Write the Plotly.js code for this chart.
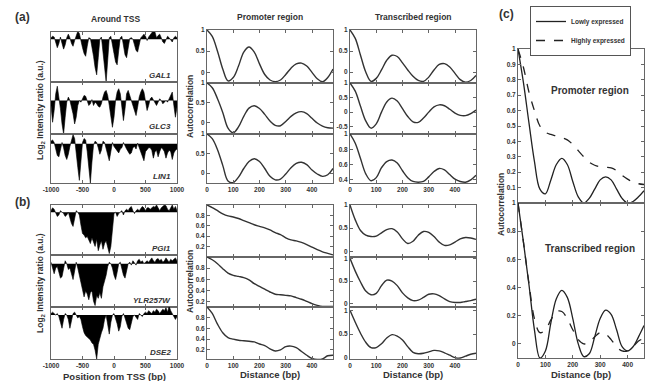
<!DOCTYPE html>
<html><head><meta charset="utf-8">
<script src="https://cdn.plot.ly/plotly-3.0.1.min.js"></script>
<style>html,body{margin:0;padding:0;background:#fff}#chart{width:652px;height:381px}</style>
</head><body><div id="chart"></div>
<script>
// ---------- DATA ----------
const tssPos = []; for (let p = -1000; p <= 1000; p += 25) tssPos.push(p);
const tssTicks = [-1000, -500, 0, 500, 1000];

const gal1 = [0.1,0.2,0.15,-0.2,-0.6,-0.3,0.15,-0.3,-0.7,-0.4,
  0.1,0.35,0.1,-0.3,-0.5,-0.1,0.3,0.55,0.4,-0.2,
  -0.6,-1.0,-1.2,-0.5,0.1,0.05,-0.5,-1.2,-2.0,-2.5,
  -1.3,0.0,0.15,-0.8,-2.0,-3.0,-1.5,0.1,0.2,-0.3,
  -1.0,-1.6,-1.8,-0.8,0.1,0.2,-0.4,-1.1,-1.3,-0.5,
  0.05,0.1,0.0,-0.4,-0.8,-0.9,-0.3,0.1,0.2,0.35,
  0.2,-0.1,0.15,0.3,0.45,0.6,0.5,0.1,0.25,0.35,
  0.1,-0.2,-0.3,0.0,0.2,0.1,-0.1,-0.2,0.1,0.2,
  0.1];
const glc3 = [-0.3,-1.3,-0.6,0.4,0.85,0.3,-0.5,-1.4,-2.0,-1.0,
  -0.1,0.2,0.0,-0.4,-0.8,-1.4,-1.0,-0.3,0.0,-0.1,
  0.1,0.3,0.25,-0.1,-0.3,-0.2,0.05,-0.3,-0.1,-0.2,
  -0.35,-0.4,-0.2,0.2,0.5,0.6,0.3,-0.3,-1.0,-1.6,
  -1.0,0.0,0.5,0.7,0.4,-0.4,-1.2,-0.5,0.4,0.6,
  0.3,-0.1,-0.3,-0.7,-0.9,-0.4,0.2,0.5,0.7,0.5,
  -0.2,-0.6,-0.3,0.1,0.2,0.0,-0.2,-0.3,-0.1,0.1,
  0.0,-0.2,-0.1,0.0,-0.1,0.1,0.3,0.5,-0.3,-1.0,
  -0.4];
const lin1 = [0.2,0.3,0.1,-0.4,-0.9,-1.0,-0.3,0.1,-0.3,-0.9,
  -1.2,-0.8,-0.2,0.3,0.7,0.4,-0.5,-1.8,-2.8,-1.2,
  0.1,0.4,0.3,-0.6,-2.0,-3.0,-1.4,-0.1,0.2,0.1,
  -0.3,-0.8,-0.5,0.2,0.1,-0.4,-0.9,-1.3,-0.6,0.1,
  -0.2,-0.4,-0.6,-0.7,-0.4,-0.3,0.1,-0.2,-0.4,-0.6,
  -0.8,-0.7,-0.3,-0.2,-0.4,0.05,-0.3,-0.6,-0.9,-1.3,
  -0.6,-0.4,-0.3,-0.3,-0.5,-1.1,-0.6,-0.5,-1.0,-0.6,
  -0.3,-0.4,-0.6,-1.1,-0.7,-0.5,-0.6,-1.2,-0.7,-0.5,
  -0.4];
const pgi1 = [0.1,0.3,0.2,0.0,-0.3,-0.2,0.1,0.0,-0.1,-0.3,
  -0.2,0.0,-0.4,-0.8,-1.0,-0.3,0.1,0.0,-0.2,-0.9,
  -1.5,-1.6,-1.8,-1.7,-1.9,-2.2,-1.8,-2.1,-2.4,-1.9,
  -2.7,-2.3,-2.0,-2.6,-2.2,-2.0,-2.5,-2.9,-2.4,-1.2,
  -0.1,0.0,-0.3,-0.1,0.0,0.1,-0.2,0.1,0.2,0.1,
  0.3,0.4,0.1,-0.1,0.1,0.2,0.1,0.3,0.4,0.3,
  0.1,0.3,0.3,0.2,0.3,0.4,0.35,0.5,0.3,0.1,
  0.3,0.4,0.5,0.45,0.2,0.1,0.3,0.5,0.2,0.4,
  0.1];
const ylr257w = [0.1,-0.4,-0.7,-0.3,-0.2,-0.6,-1.0,-0.9,-0.2,0.2,
  0.0,-0.4,-0.3,-0.8,-1.1,-0.5,0.1,-0.3,-0.9,-1.3,
  -1.8,-2.3,-1.9,-2.1,-2.5,-2.0,-1.9,-2.6,-2.9,-2.2,
  -2.4,-2.0,-2.4,-1.6,-1.2,-0.8,-0.2,0.1,0.0,-0.3,
  -0.8,-1.1,-0.6,0.0,0.1,-0.3,-0.8,-1.0,-0.4,0.0,
  0.1,-0.1,0.2,0.0,-0.1,0.2,0.3,0.1,0.2,0.0,
  0.1,0.2,0.1,0.3,0.4,0.2,0.1,0.3,0.35,0.2,
  0.3,0.1,0.2,0.4,0.2,0.1,0.3,0.2,0.3,0.4,
  0.2];
const dse2 = [0.1,0.2,0.1,0.0,0.1,-0.1,-0.5,-0.9,-0.3,0.1,
  0.0,-0.3,-0.9,-0.4,0.1,0.2,0.0,-0.2,-0.1,-0.3,
  -0.8,-1.2,-1.4,-1.5,-1.6,-1.7,-1.9,-2.0,-2.4,-3.0,
  -2.0,-1.5,-1.2,-0.9,-0.3,0.0,-0.8,-1.3,-0.5,0.0,
  0.1,-0.2,-0.6,-1.1,-0.8,-0.1,0.1,-0.2,-0.6,-0.9,
  -1.0,-0.6,-0.1,0.0,-0.2,-0.3,0.1,0.0,-0.1,0.1,
  0.2,0.1,0.3,0.2,0.1,0.3,0.2,0.4,0.3,0.1,
  0.3,0.4,0.3,0.5,0.2,0.6,0.3,0.1,-0.2,-0.3,
  -0.1];

const lag = [0,20,40,60,80,100,120,140,160,180,200,220,240,260,280,300,320,340,360,380,400,420,440,460,480];
const distTicks = [0,100,200,300,400];

const promGAL1 = [1.0,0.85,0.5,0.08,-0.2,-0.12,0.15,0.48,0.6,0.48,0.2,-0.05,-0.18,-0.22,-0.18,-0.05,0.1,0.2,0.22,0.15,0.0,-0.15,-0.22,-0.12,0.08];
const promGLC3 = [1.0,0.88,0.6,0.25,-0.15,-0.27,-0.12,0.15,0.36,0.42,0.35,0.2,0.03,-0.08,-0.09,0.02,0.15,0.24,0.27,0.22,0.1,-0.02,-0.1,-0.14,-0.15];
const promLIN1 = [1.0,0.88,0.6,0.2,-0.2,-0.24,-0.1,0.12,0.3,0.37,0.3,0.12,-0.08,-0.17,-0.15,-0.02,0.14,0.25,0.28,0.22,0.08,-0.02,-0.08,-0.04,0.12];
const transGAL1 = [1.0,0.8,0.4,0.0,-0.22,-0.15,0.05,0.28,0.4,0.37,0.22,0.05,-0.1,-0.2,-0.22,-0.12,0.05,0.18,0.2,0.12,-0.03,-0.18,-0.24,-0.2,-0.08];
const transGLC3 = [1.0,0.72,0.2,-0.3,-0.55,-0.4,0.0,0.35,0.48,0.38,0.12,-0.15,-0.33,-0.35,-0.2,0.0,0.18,0.25,0.22,0.1,-0.03,-0.11,-0.12,-0.05,0.07];
const transLIN1 = [1.0,0.88,0.68,0.48,0.39,0.43,0.56,0.64,0.66,0.62,0.52,0.43,0.38,0.37,0.38,0.44,0.51,0.55,0.53,0.47,0.41,0.38,0.37,0.4,0.46];

const promPGI1 = [1.0,0.95,0.89,0.83,0.79,0.77,0.74,0.7,0.66,0.62,0.59,0.56,0.52,0.47,0.43,0.37,0.33,0.31,0.28,0.24,0.19,0.14,0.1,0.07,0.04];
const promYLR257W = [1.0,0.95,0.88,0.79,0.71,0.67,0.65,0.63,0.59,0.52,0.47,0.42,0.37,0.33,0.32,0.31,0.3,0.27,0.24,0.2,0.16,0.13,0.11,0.11,0.11];
const promDSE2 = [1.0,0.88,0.68,0.52,0.43,0.4,0.38,0.37,0.36,0.35,0.31,0.28,0.22,0.18,0.2,0.26,0.27,0.24,0.17,0.1,0.04,0.02,0.03,0.09,0.1];
const transPGI1 = [1.0,0.68,0.45,0.35,0.32,0.33,0.4,0.47,0.49,0.42,0.27,0.17,0.22,0.35,0.43,0.41,0.32,0.2,0.13,0.14,0.2,0.27,0.3,0.29,0.26];
const transYLR257W = [1.0,0.72,0.48,0.28,0.2,0.23,0.4,0.52,0.5,0.4,0.24,0.13,0.07,0.08,0.14,0.21,0.22,0.18,0.11,0.05,0.03,0.03,0.05,0.07,0.1];
const transDSE2 = [1.0,0.75,0.52,0.33,0.22,0.22,0.3,0.42,0.49,0.46,0.38,0.24,0.12,0.09,0.1,0.13,0.16,0.15,0.11,0.06,0.01,0.0,0.04,0.08,0.1];

const lagC = [0,20,40,60,80,100,120,140,160,180,200,220,240,260,280,300,320,340,360,380,400,420,440,460];
const cPromLow  = [1.0,0.78,0.52,0.27,0.09,0.06,0.15,0.25,0.29,0.25,0.14,0.04,0.0,0.03,0.09,0.15,0.17,0.15,0.09,0.03,0.0,0.01,0.04,0.08];
const cPromHigh = [1.0,0.88,0.72,0.6,0.5,0.46,0.445,0.435,0.425,0.41,0.38,0.34,0.3,0.265,0.245,0.235,0.232,0.228,0.21,0.18,0.155,0.135,0.125,0.12];
const cTransLow  = [1.0,0.72,0.42,0.1,-0.1,-0.05,0.15,0.32,0.38,0.33,0.18,0.0,-0.09,-0.07,0.05,0.18,0.24,0.21,0.1,-0.02,-0.05,-0.02,0.05,0.13];
const cTransHigh = [1.0,0.72,0.43,0.18,0.08,0.1,0.17,0.23,0.23,0.18,0.1,0.03,0.0,0.01,0.05,0.08,0.07,0.03,-0.02,-0.05,-0.05,-0.02,0.02,0.04];

const seriesNames = ['Lowly expressed', 'Highly expressed'];

// ---------- LAYOUT HELPERS ----------
const W = 652, H = 381;
const FONT = 'Liberation Sans, Arial, sans-serif';
const TXT = '#333';
const AX = '#666';
const dx = (a, b) => [a / W, b / W];
const dy = (a, b) => [1 - b / H, 1 - a / H];

const panels = [
  // TSS column
  {x:[51,177], y:[32,82],  xr:[-1000,1000], yr:[-3,0.5],  xs:tssPos, ys:gal1, tss:true, xl:false},
  {x:[51,177], y:[82,134], xr:[-1000,1000], yr:[-2,1.1],  xs:tssPos, ys:glc3, tss:true, xl:false},
  {x:[51,177], y:[134,183],xr:[-1000,1000], yr:[-3,0.75], xs:tssPos, ys:lin1, tss:true, xl:true},
  {x:[51,177], y:[205,255],xr:[-1000,1000], yr:[-3,0.5],  xs:tssPos, ys:pgi1, tss:true, xl:false},
  {x:[51,177], y:[255,307],xr:[-1000,1000], yr:[-3,0.6],  xs:tssPos, ys:ylr257w, tss:true, xl:false},
  {x:[51,177], y:[307,359],xr:[-1000,1000], yr:[-3,0.55], xs:tssPos, ys:dse2, tss:true, xl:true},
  // promoter (a)
  {x:[207,333], y:[30,83],  xr:[0,480], yr:[-0.25,1],  xs:lag, ys:promGAL1, yt:[0,0.5,1], xl:false},
  {x:[207,333], y:[83,134], xr:[0,480], yr:[-0.3,1],   xs:lag, ys:promGLC3, yt:[0,0.5,1], xl:false},
  {x:[207,333], y:[134,183],xr:[0,480], yr:[-0.25,1],  xs:lag, ys:promLIN1, yt:[0,0.5,1], xl:true},
  // transcribed (a)
  {x:[350,476], y:[30,83],  xr:[0,480], yr:[-0.26,1],  xs:lag, ys:transGAL1, yt:[0,0.5,1], xl:false},
  {x:[350,476], y:[83,134], xr:[0,480], yr:[-0.75,1],  xs:lag, ys:transGLC3, yt:[-0.5,0,0.5,1], xl:false},
  {x:[350,476], y:[134,183],xr:[0,480], yr:[0.36,1],   xs:lag, ys:transLIN1, yt:[0.4,0.6,0.8,1], xl:true},
  // promoter (b)
  {x:[207,333], y:[205,257],xr:[0,480], yr:[0,1],      xs:lag, ys:promPGI1, yt:[0.2,0.4,0.6,0.8], xl:false},
  {x:[207,333], y:[257,307],xr:[0,480], yr:[0.1,1],    xs:lag, ys:promYLR257W, yt:[0.2,0.4,0.6,0.8], xl:false},
  {x:[207,333], y:[307,359],xr:[0,480], yr:[0.03,1],   xs:lag, ys:promDSE2, yt:[0.2,0.4,0.6,0.8], xl:true},
  // transcribed (b)
  {x:[350,476], y:[205,257],xr:[0,480], yr:[-0.12,1],  xs:lag, ys:transPGI1, yt:[0,0.5,1], xl:false},
  {x:[350,476], y:[257,307],xr:[0,480], yr:[-0.07,1.03],xs:lag, ys:transYLR257W, yt:[0,0.5,1], xl:false},
  {x:[350,476], y:[307,359],xr:[0,480], yr:[-0.02,1.07],xs:lag, ys:transDSE2, yt:[0,0.5,1], xl:true},
  // (c)
  {x:[518,644], y:[49,203], xr:[0,460], yr:[0,1],      xs:lagC, ys:[cPromLow, cPromHigh], yt:[0.1,0.2,0.3,0.4,0.5,0.6,0.7,0.8,0.9,1], xl:false, c:true},
  {x:[518,644], y:[203,358],xr:[0,460], yr:[-0.1,1],   xs:lagC, ys:[cTransLow, cTransHigh], yt:[0,0.2,0.4,0.6,0.8,1], xl:true, c:true}
];

const tickfont = {family: FONT, size: 6.5, color: TXT, weight: 'bold'};
const traces = [];
const layout = {
  width: W, height: H, margin: {l:0, r:0, t:0, b:0},
  paper_bgcolor: '#fff', plot_bgcolor: '#fff',
  showlegend: true,
  legend: {x: 530/W, y: 1 - 6/H, xanchor: 'left', yanchor: 'top',
    bordercolor: '#555', borderwidth: 1, bgcolor: '#fff',
    font: {family: FONT, size: 6.5, color: TXT, weight: 'bold'},
    itemwidth: 30, tracegroupgap: 0},
  annotations: [], shapes: []
};

panels.forEach((p, i) => {
  const n = i + 1;
  const xk = n === 1 ? 'xaxis' : 'xaxis' + n;
  const yk = n === 1 ? 'yaxis' : 'yaxis' + n;
  const xa = n === 1 ? 'x' : 'x' + n;
  const ya = n === 1 ? 'y' : 'y' + n;
  const common = {showline:true, linecolor:AX, linewidth:1, mirror:'ticks', showgrid:false, zeroline:false,
    ticks:'inside', ticklen:3, tickcolor:AX, tickfont: tickfont, fixedrange:true};
  layout[xk] = Object.assign({}, common, {
    domain: dx(p.x[0], p.x[1]), anchor: ya, range: p.xr,
    tickmode: 'array', tickvals: p.tss ? tssTicks : distTicks,
    ticktext: (p.tss ? tssTicks : distTicks).map(String),
    showticklabels: p.xl
  });
  if (p.tss) {
    layout[yk] = Object.assign({}, common, {domain: dy(p.y[0], p.y[1]), anchor: xa, range: p.yr,
      ticks: '', showticklabels: false});
    traces.push({x: p.xs, y: p.ys, xaxis: xa, yaxis: ya, type: 'scatter', mode: 'lines',
      fill: 'tozeroy', fillcolor: '#000', line: {color: '#000', width: 0.6}, showlegend: false, hoverinfo: 'skip'});
  } else {
    layout[yk] = Object.assign({}, common, {domain: dy(p.y[0], p.y[1]), anchor: xa, range: p.yr,
      tickmode: 'array', tickvals: p.yt, ticktext: p.yt.map(String)});
    if (p.c) {
      p.ys.forEach((ys, k) => {
        traces.push({x: p.xs, y: ys, xaxis: xa, yaxis: ya, type: 'scatter', mode: 'lines',
          name: seriesNames[k], showlegend: i === 18,
          line: {color: '#222', width: 1.3, dash: k === 0 ? 'solid' : 'dash', shape: 'spline', smoothing: 1},
          hoverinfo: 'skip'});
      });
    } else {
      traces.push({x: p.xs, y: p.ys, xaxis: xa, yaxis: ya, type: 'scatter', mode: 'lines',
        line: {color: '#333', width: 1.4, shape: 'spline', smoothing: 1}, showlegend: false, hoverinfo: 'skip'});
    }
  }
});

function ann(text, px, py, size, opts) {
  layout.annotations.push(Object.assign({
    text: text, x: px / W, y: 1 - py / H, xref: 'paper', yref: 'paper',
    xanchor: 'center', yanchor: 'middle', showarrow: false,
    font: {family: FONT, size: size, color: TXT, weight: 'bold'}
  }, opts || {}));
}
ann('(a)', 22, 17, 12);
ann('(b)', 22, 202, 12);
ann('(c)', 506, 14, 12);
ann('Around TSS', 115, 19, 8.5);
ann('Promoter region', 270, 17, 8.5);
ann('Transcribed region', 413, 17, 8.5);
const geneLabels = [['GAL1', 76], ['GLC3', 127], ['LIN1', 176], ['PGI1', 248], ['YLR257W', 300], ['DSE2', 352]];
geneLabels.forEach(g => ann('<i>' + g[0] + '</i>', 173, g[1], 8, {xanchor: 'right'}));
ann('Log<sub>2</sub> Intensity ratio (a.u.)', 40, 110, 8.5, {textangle: -90});
ann('Log<sub>2</sub> Intensity ratio (a.u.)', 40, 283, 8.5, {textangle: -90});
ann('Autocorrelation', 190, 107, 8.5, {textangle: -90});
ann('Autocorrelation', 190, 282, 8.5, {textangle: -90});
ann('Autocorrelation', 501, 205, 8.5, {textangle: -90});
ann('Position from TSS (bp)', 114, 376, 9.5);
ann('Distance (bp)', 270, 374, 9.5);
ann('Distance (bp)', 413, 374, 9.5);
ann('Distance (bp)', 581, 374, 9.5);
ann('Promoter region', 590, 90, 10);
ann('Transcribed region', 590, 249, 10);

Plotly.newPlot('chart', traces, layout, {staticPlot: true, displayModeBar: false});
</script>
</body></html>
